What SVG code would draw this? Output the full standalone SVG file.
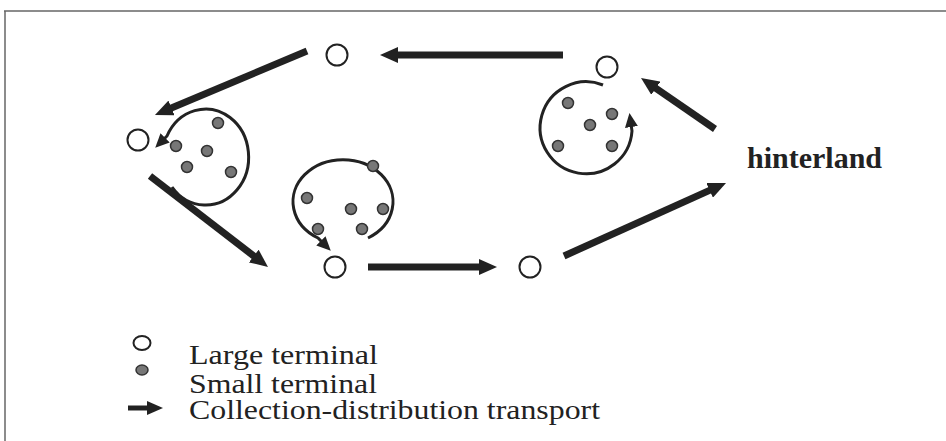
<svg xmlns="http://www.w3.org/2000/svg" width="946" height="441" viewBox="0 0 946 441">
<style>
.big{fill:#fff;stroke:#222;stroke-width:2}
.dot{fill:#777;stroke:#333;stroke-width:1.5}
.flow{fill:none;stroke:#222;stroke-width:7}
.loop{fill:none;stroke:#222;stroke-width:3}
.lbl{font-family:"Liberation Serif","Times New Roman",serif;fill:#222}
</style>
<defs>
<marker id="ah" markerUnits="userSpaceOnUse" viewBox="0 0 18 16" markerWidth="18" markerHeight="16" refX="6" refY="8" orient="auto"><path d="M0,0 L18,8 L0,16 Z" fill="#222"/></marker>
<marker id="ahc" markerUnits="userSpaceOnUse" viewBox="0 0 14 13" markerWidth="14" markerHeight="13" refX="3" refY="6.5" orient="auto"><path d="M0,0 L14,6.5 L0,13 Z" fill="#222"/></marker>
<marker id="ahs" markerUnits="userSpaceOnUse" viewBox="0 0 16 14" markerWidth="16" markerHeight="14" refX="4" refY="7" orient="auto"><path d="M0,0 L16,7 L0,14 Z" fill="#222"/></marker>
</defs>
<g id="frame" fill="none" stroke="#666" stroke-width="1.5">
<line x1="4" y1="11" x2="946" y2="11"/>
<line x1="5" y1="11" x2="5" y2="441"/>
</g>
<g id="connectors">
<line class="flow" x1="563" y1="55" x2="392" y2="55" marker-end="url(#ah)"/>
<line class="flow" x1="307" y1="51" x2="166" y2="110.3" marker-end="url(#ah)"/>
<line class="flow" x1="150" y1="176" x2="258.5" y2="259.7" marker-end="url(#ah)"/>
<line class="flow" x1="368" y1="267" x2="485" y2="267" marker-end="url(#ah)"/>
<line class="flow" x1="564" y1="256" x2="715.1" y2="187.9" marker-end="url(#ah)"/>
<line class="flow" x1="715" y1="129" x2="650.9" y2="84.8" marker-end="url(#ah)"/>
<path class="loop" d="M172,187 A43,48 0 1 0 167,136 L163,140" marker-end="url(#ahc)"/>
<path class="loop" d="M368,238 A50,42 0 1 0 318,238 L323,243" marker-end="url(#ahc)"/>
<path class="loop" d="M603,85 A46,46 0 1 0 632,131 L631,124" marker-end="url(#ahc)"/>
</g>
<g id="large-top"><circle class="big" cx="337" cy="55" r="10.5"/></g>
<g id="large-topright"><circle class="big" cx="607" cy="67" r="10.5"/></g>
<g id="large-left"><circle class="big" cx="138" cy="140" r="10.5"/></g>
<g id="large-bottom1"><circle class="big" cx="335" cy="267" r="10.5"/></g>
<g id="large-bottom2"><circle class="big" cx="530" cy="267" r="10.5"/></g>
<g id="cluster-left">
<circle class="dot" cx="218" cy="123" r="5.5"/>
<circle class="dot" cx="176" cy="146" r="5.5"/>
<circle class="dot" cx="207" cy="151" r="5.5"/>
<circle class="dot" cx="187" cy="167" r="5.5"/>
<circle class="dot" cx="231" cy="172" r="5.5"/>
</g>
<g id="cluster-middle">
<circle class="dot" cx="373" cy="166" r="5.5"/>
<circle class="dot" cx="307" cy="198" r="5.5"/>
<circle class="dot" cx="351" cy="209" r="5.5"/>
<circle class="dot" cx="383" cy="209" r="5.5"/>
<circle class="dot" cx="318" cy="229" r="5.5"/>
<circle class="dot" cx="362" cy="229" r="5.5"/>
</g>
<g id="cluster-right">
<circle class="dot" cx="568" cy="103" r="5.5"/>
<circle class="dot" cx="612" cy="114" r="5.5"/>
<circle class="dot" cx="590" cy="125" r="5.5"/>
<circle class="dot" cx="558" cy="146" r="5.5"/>
<circle class="dot" cx="612" cy="146" r="5.5"/>
</g>
<g id="hinterland"><text class="lbl" x="747" y="168" font-family="Liberation Serif, serif" font-size="30" font-weight="bold">hinterland</text></g>
<g id="legend">
<ellipse class="big" cx="142" cy="343" rx="8.5" ry="7"/>
<ellipse class="dot" cx="142" cy="370" rx="6" ry="5"/>
<line x1="128" y1="408" x2="151" y2="408" stroke="#222" stroke-width="5" marker-end="url(#ahs)"/>
<text class="lbl" x="189" y="364" font-family="Liberation Serif, serif" font-size="28" textLength="189" lengthAdjust="spacingAndGlyphs">Large terminal</text>
<text class="lbl" x="189" y="393" font-family="Liberation Serif, serif" font-size="28" textLength="188" lengthAdjust="spacingAndGlyphs">Small terminal</text>
<text class="lbl" x="189" y="419" font-family="Liberation Serif, serif" font-size="28" textLength="411" lengthAdjust="spacingAndGlyphs">Collection-distribution transport</text>
</g>
</svg>
